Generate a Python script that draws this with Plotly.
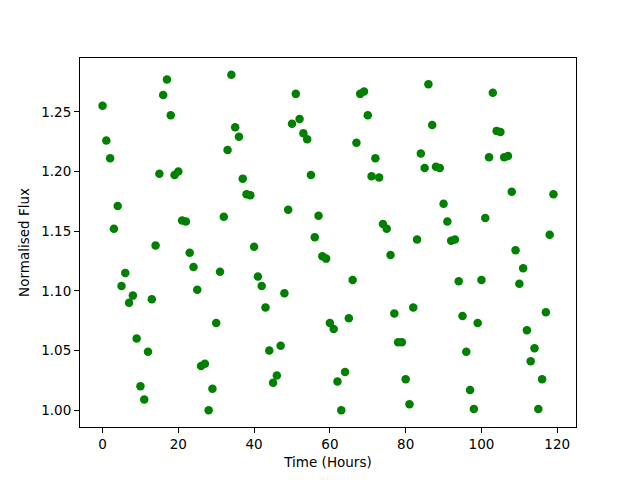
import plotly.graph_objects as go

hours = list(range(120))
flux = [
    1.255, 1.226, 1.211, 1.152, 1.171, 1.104, 1.115, 1.090, 1.096, 1.060,
    1.020, 1.009, 1.049, 1.093, 1.138, 1.198, 1.264, 1.277, 1.247, 1.197,
    1.200, 1.159, 1.158, 1.132, 1.120, 1.101, 1.037, 1.039, 1.000, 1.018,
    1.073, 1.116, 1.162, 1.218, 1.281, 1.237, 1.229, 1.194, 1.181, 1.180,
    1.137, 1.112, 1.104, 1.086, 1.050, 1.023, 1.029, 1.054, 1.098, 1.168,
    1.240, 1.265, 1.244, 1.232, 1.227, 1.197, 1.145, 1.163, 1.129, 1.127,
    1.073, 1.068, 1.024, 1.000, 1.032, 1.077, 1.109, 1.224, 1.265, 1.267,
    1.247, 1.196, 1.211, 1.195, 1.156, 1.152, 1.130, 1.081, 1.057, 1.057,
    1.026, 1.005, 1.086, 1.143, 1.215, 1.203, 1.273, 1.239, 1.204, 1.203,
    1.173, 1.158, 1.142, 1.143, 1.108, 1.079, 1.049, 1.017, 1.001, 1.073,
    1.109, 1.161, 1.212, 1.266, 1.234, 1.233, 1.212, 1.213, 1.183, 1.134,
    1.106, 1.119, 1.067, 1.041, 1.052, 1.001, 1.026, 1.082, 1.147, 1.181,
]
x_ticks = [0, 20, 40, 60, 80, 100, 120]
y_ticks = [1.00, 1.05, 1.10, 1.15, 1.20, 1.25]

fig = go.Figure()
fig.add_trace(go.Scatter(
    x=hours, y=flux, mode="markers",
    marker=dict(color="#008000", size=8.5, line=dict(width=0)),
    showlegend=False,
))

axis_common = dict(
    showgrid=False, zeroline=False, showline=True, linecolor="black", linewidth=1,
    mirror=True, ticks="outside", ticklen=5, tickwidth=1, tickcolor="black",
    tickfont=dict(family="DejaVu Sans", size=13.5, color="black"),
)
xmin, xmax = min(hours), max(hours)
ymin, ymax = min(flux), max(flux)
xpad = 0.05 * (xmax - xmin)
ypad = 0.05 * (ymax - ymin)

fig.update_xaxes(
    range=[xmin - xpad, xmax + xpad], tickvals=x_ticks,
    title=dict(text="Time (Hours)", font=dict(family="DejaVu Sans", size=13.5, color="black"), standoff=6),
    **axis_common,
)
fig.update_yaxes(
    range=[ymin - ypad, ymax + ypad], tickvals=y_ticks, tickformat=".2f",
    title=dict(text="Normalised Flux", font=dict(family="DejaVu Sans", size=13.5, color="black"), standoff=8),
    **axis_common,
)
fig.update_layout(
    width=632, height=472,
    margin=dict(l=72, r=64, t=50, b=53),
    plot_bgcolor="white", paper_bgcolor="white",
)
fig.write_html("out.html")
